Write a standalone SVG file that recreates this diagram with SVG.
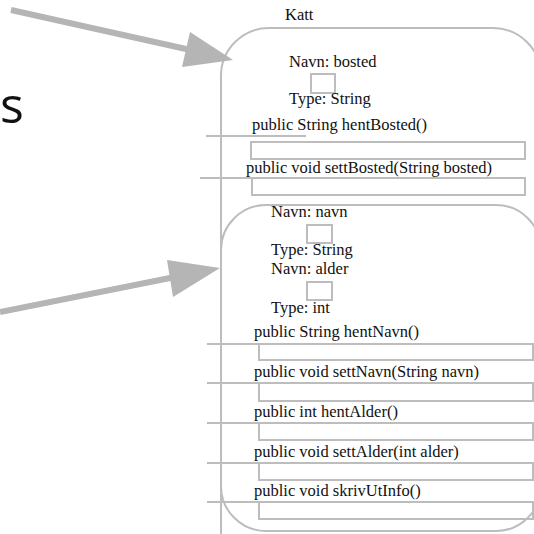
<svg xmlns="http://www.w3.org/2000/svg" width="534" height="534" viewBox="0 0 534 534">
  <style>
    .frame { fill: none; stroke: #bdbdbd; stroke-width: 2; }
    .slot { fill: none; stroke: #bdbdbd; stroke-width: 2; }
    .rule { stroke: #bdbdbd; stroke-width: 2; }
    .lbl { font-family: "Liberation Serif", "DejaVu Serif", serif; font-size: 16.5px; fill: #111; }
    .big { font-family: "Open Sans", "Noto Sans", sans-serif; font-size: 50px; fill: #111; }
    .shaft { stroke: #b5b5b5; stroke-width: 6; fill: none; }
    .head { fill: #b5b5b5; }
  </style>

  <rect width="534" height="534" fill="#ffffff"/>

  <text class="big" x="0" y="123">s</text>

  <!-- Katt class -->
  <g id="katt">
    <rect class="frame" x="221" y="28" width="320" height="560" rx="48" ry="48"/>
    <text class="lbl" x="285" y="20">Katt</text>
    <text class="lbl" x="289" y="67">Navn: bosted</text>
    <rect class="slot" x="311" y="74" width="24" height="19"/>
    <text class="lbl" x="289" y="104">Type: String</text>

    <text class="lbl" x="252" y="130">public String hentBosted()</text>
    <line class="rule" x1="206" y1="136" x2="306" y2="136"/>
    <rect class="slot" x="251" y="142" width="274" height="17"/>

    <text class="lbl" x="246" y="173">public void settBosted(String bosted)</text>
    <line class="rule" x1="200" y1="178" x2="300" y2="178"/>
    <rect class="slot" x="252" y="178" width="273" height="17"/>
  </g>

  <!-- Dyr superclass nested inside -->
  <g id="dyr">
    <rect class="frame" x="221" y="205" width="320" height="326" rx="45" ry="45"/>
    <text class="lbl" x="271" y="217">Navn: navn</text>
    <rect class="slot" x="307" y="225" width="25" height="18"/>
    <text class="lbl" x="271" y="255">Type: String</text>
    <text class="lbl" x="271" y="274">Navn: alder</text>
    <rect class="slot" x="307" y="282" width="25" height="18"/>
    <text class="lbl" x="271" y="313">Type: int</text>

    <text class="lbl" x="254" y="337">public String hentNavn()</text>
    <line class="rule" x1="207" y1="344" x2="307" y2="344"/>
    <rect class="slot" x="259" y="344" width="274" height="16"/>

    <text class="lbl" x="254" y="377">public void settNavn(String navn)</text>
    <line class="rule" x1="207" y1="383" x2="307" y2="383"/>
    <rect class="slot" x="259" y="383" width="274" height="18"/>

    <text class="lbl" x="254" y="417">public int hentAlder()</text>
    <line class="rule" x1="207" y1="423" x2="307" y2="423"/>
    <rect class="slot" x="259" y="423" width="274" height="17"/>

    <text class="lbl" x="254" y="457">public void settAlder(int alder)</text>
    <line class="rule" x1="207" y1="463" x2="307" y2="463"/>
    <rect class="slot" x="259" y="463" width="274" height="17"/>

    <text class="lbl" x="254" y="496">public void skrivUtInfo()</text>
    <line class="rule" x1="207" y1="502" x2="307" y2="502"/>
    <rect class="slot" x="259" y="502" width="274" height="17"/>
  </g>

  <!-- pointers -->
  <g id="connectors">
    <line class="shaft" x1="11" y1="10" x2="195" y2="51"/>
    <polygon class="head" points="233,60 190,32 182,67"/>
    <line class="shaft" x1="0" y1="312" x2="180" y2="276"/>
    <polygon class="head" points="220,268 167,260 173,297"/>
  </g>
</svg>
